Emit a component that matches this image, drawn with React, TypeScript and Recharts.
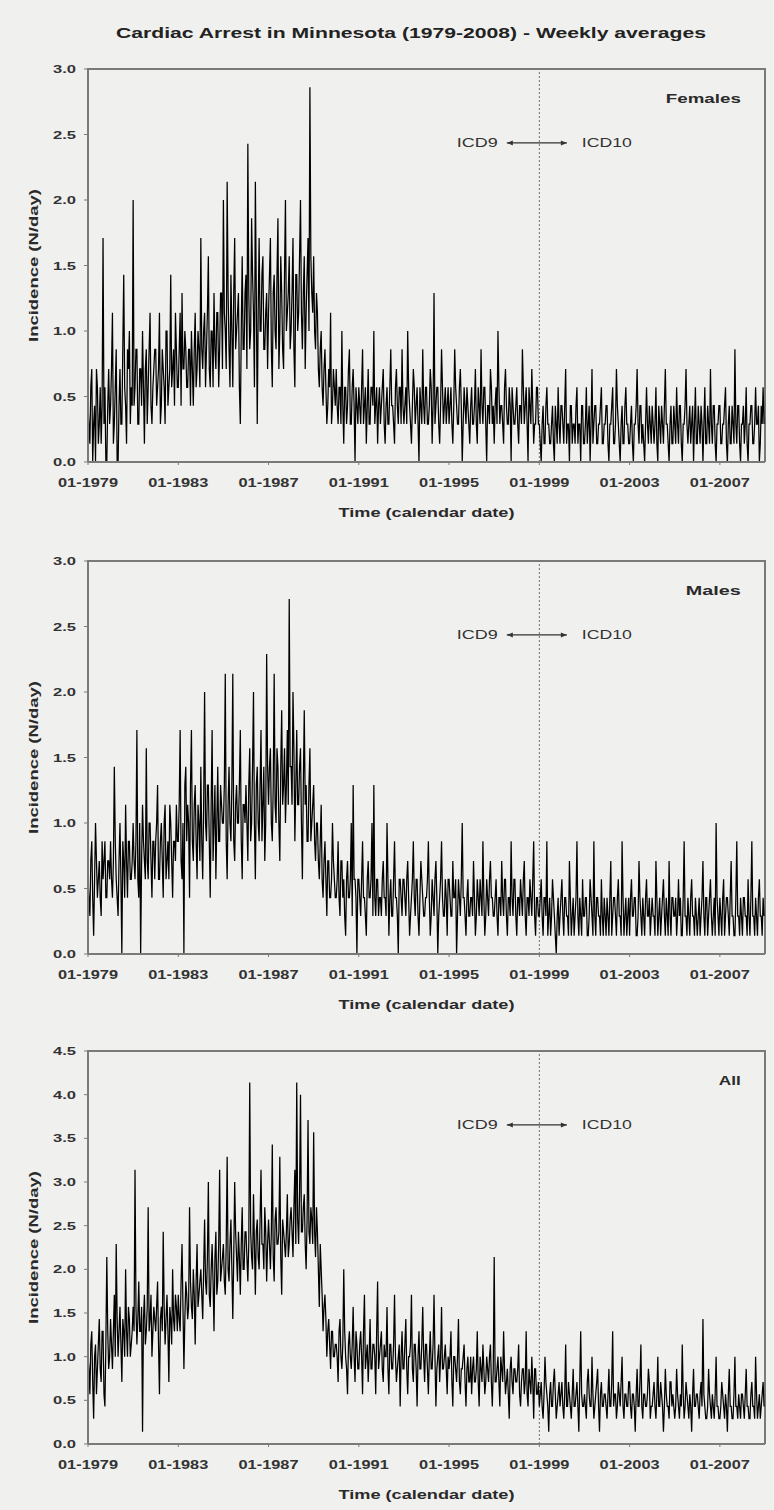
import React from 'react';
import { LineChart, Line, XAxis, YAxis, ReferenceLine, ReferenceDot, Label } from 'recharts';

// weekly averages (N/day): one row per year 1979..2008,
// "early" = first half of each month, "late" = second half of each month
const startYear = 1979;
const xTicks = [1979, 1983, 1987, 1991, 1995, 1999, 2003, 2007];
const ticks3 = [0, 0.5, 1, 1.5, 2, 2.5, 3];
const ticks45 = [0, 0.5, 1, 1.5, 2, 2.5, 3, 3.5, 4, 4.5];

const femalesEarly: number[][] = [
  [0.43, 0.14, 0.71, 0.29, 0, 0.57, 0.29, 0.14, 1.71, 0.57, 0, 0.71],
  [0.43, 1.14, 0.29, 0.86, 0, 0.71, 0.29, 1.43, 0.43, 0.86, 1.0, 0.57],
  [2.0, 0.57, 0.86, 0.29, 0.71, 1.0, 0.14, 0.86, 0.57, 1.14, 0.29, 0.71],
  [0.86, 0.57, 1.14, 0.43, 0.71, 0.29, 1.0, 0.57, 1.43, 0.71, 0.43, 0.86],
  [0.57, 1.14, 1.29, 0.71, 0.86, 0.57, 0.86, 1.0, 0.43, 1.14, 0.71, 0.86],
  [1.71, 0.71, 1.14, 0.86, 1.57, 0.57, 1.0, 1.29, 0.71, 1.14, 0.86, 1.29],
  [2.0, 1.0, 2.14, 0.86, 1.43, 0.57, 1.71, 1.0, 1.29, 0.29, 1.57, 0.86],
  [1.43, 2.43, 0.86, 1.86, 1.14, 2.14, 0.29, 1.71, 1.0, 1.57, 0.86, 1.29],
  [1.14, 1.71, 0.57, 1.43, 0.86, 1.86, 1.0, 1.29, 0.71, 2.0, 1.14, 1.57],
  [1.0, 1.71, 0.57, 1.43, 1.14, 2.0, 0.86, 1.57, 1.14, 1.71, 2.86, 1.29],
  [1.57, 0.86, 1.14, 0.57, 1.0, 0.43, 0.86, 0.29, 0.71, 1.14, 0.43, 0.57],
  [0.71, 0.29, 0.57, 1.0, 0.14, 0.57, 0.43, 0.86, 0.29, 0.71, 0, 0.43],
  [0.57, 0.29, 0.86, 0.43, 0.14, 0.71, 0.29, 0.57, 1.0, 0.43, 0.14, 0.57],
  [0.43, 0.71, 0.14, 0.57, 0.29, 0.86, 0.43, 0.14, 0.71, 0.29, 0.57, 0.86],
  [0.29, 0.57, 1.0, 0.43, 0.14, 0.71, 0.29, 0.57, 0, 0.43, 0.86, 0.29],
  [0.57, 0.29, 0.71, 0.14, 1.29, 0.43, 0.57, 0.14, 0.86, 0.29, 0.57, 0.43],
  [0.29, 0.57, 0.14, 0.86, 0.43, 0.29, 0.71, 0, 0.57, 0.29, 0.43, 0.14],
  [0.57, 0.29, 0.71, 0.14, 0.43, 0.86, 0.29, 0.57, 0, 0.43, 0.71, 0.29],
  [0.14, 0.57, 1.0, 0.29, 0.43, 0.14, 0.71, 0.29, 0.57, 0, 0.43, 0.29],
  [0.57, 0.14, 0.43, 0.86, 0.29, 0.57, 0, 0.43, 0.71, 0.14, 0.29, 0.57],
  [0.29, 0, 0.43, 0.14, 0.57, 0.29, 0.14, 0.43, 0, 0.29, 0.57, 0.14],
  [0.43, 0.14, 0.71, 0.29, 0, 0.43, 0.29, 0.14, 0.57, 0.29, 0, 0.43],
  [0.14, 0.57, 0.29, 0, 0.71, 0.29, 0.43, 0.14, 0.29, 0.57, 0.14, 0.29],
  [0.43, 0, 0.29, 0.57, 0.14, 0.71, 0.29, 0, 0.43, 0.14, 0.57, 0.29],
  [0.14, 0.43, 0, 0.29, 0.71, 0.14, 0.43, 0.29, 0, 0.57, 0.14, 0.29],
  [0.43, 0.14, 0.57, 0, 0.29, 0.43, 0.14, 0.71, 0.29, 0, 0.43, 0.14],
  [0.29, 0.57, 0.14, 0.43, 0, 0.29, 0.71, 0.14, 0.43, 0.29, 0, 0.57],
  [0.14, 0.29, 0.43, 0, 0.57, 0.14, 0.29, 0.71, 0.14, 0.43, 0, 0.29],
  [0.43, 0.14, 0.29, 0.57, 0, 0.43, 0.14, 0.29, 0.86, 0.14, 0.43, 0],
  [0.29, 0.14, 0.57, 0, 0.29, 0.43, 0.14, 0.57, 0.29, 0, 0.43, 0.57],
];

const femalesLate: number[][] = [
  [0.29, 0.57, 0, 0.43, 0.71, 0.14, 0.57, 0.43, 0.29, 0, 0.43, 0.29],
  [0.71, 0.14, 0.57, 0, 0.43, 0.29, 0.86, 0.57, 0.14, 0.71, 0.29, 0.43],
  [0.43, 0.86, 0.29, 0.71, 0.43, 0.57, 0.71, 0.29, 0.86, 0.43, 0.57, 0.86],
  [0.43, 0.71, 0.29, 0.86, 0.57, 1.0, 0.43, 0.71, 0.57, 0.86, 1.14, 0.57],
  [0.86, 0.43, 0.71, 1.0, 0.57, 0.86, 0.43, 0.71, 0.86, 0.57, 1.0, 0.57],
  [0.86, 1.0, 0.57, 1.14, 0.71, 1.0, 0.57, 0.86, 1.14, 0.57, 1.29, 0.71],
  [1.14, 0.71, 1.29, 0.57, 1.0, 1.29, 0.86, 1.14, 0.57, 1.0, 0.86, 1.29],
  [0.71, 1.29, 1.0, 1.43, 0.57, 1.29, 1.14, 1.0, 1.43, 0.86, 1.14, 0.71],
  [1.43, 0.86, 1.29, 1.0, 1.43, 0.71, 1.57, 0.86, 1.43, 1.0, 1.29, 0.86],
  [1.29, 0.86, 1.43, 1.0, 1.57, 1.14, 1.29, 0.71, 1.43, 1.0, 1.57, 1.14],
  [1.0, 1.29, 0.71, 0.86, 0.57, 0.71, 0.57, 0.43, 0.57, 0.29, 0.71, 0.43],
  [0.43, 0.57, 0.29, 0.43, 0.57, 0.29, 0.71, 0.29, 0.57, 0.43, 0.57, 0.29],
  [0.43, 0.57, 0.29, 0.57, 0.43, 0.29, 0.57, 0.43, 0.29, 0.57, 0.43, 0.29],
  [0.57, 0.29, 0.43, 0.29, 0.57, 0.43, 0.29, 0.57, 0.43, 0.57, 0.29, 0.43],
  [0.43, 0.29, 0.57, 0.29, 0.43, 0.57, 0.43, 0.29, 0.57, 0.29, 0.43, 0.57],
  [0.29, 0.43, 0.57, 0.43, 0.29, 0.57, 0.29, 0.43, 0.57, 0.43, 0.29, 0.57],
  [0.43, 0.29, 0.43, 0.57, 0.29, 0.57, 0.43, 0.29, 0.43, 0.57, 0.29, 0.43],
  [0.29, 0.43, 0.29, 0.57, 0.29, 0.43, 0.57, 0.29, 0.43, 0.29, 0.57, 0.43],
  [0.43, 0.29, 0.57, 0.43, 0.29, 0.57, 0.43, 0.29, 0.43, 0.57, 0.29, 0.43],
  [0.29, 0.43, 0.29, 0.57, 0.43, 0.29, 0.57, 0.29, 0.43, 0.29, 0.57, 0.29],
  [0.14, 0.29, 0.14, 0.43, 0.29, 0.14, 0.29, 0.14, 0.43, 0.14, 0.29, 0.43],
  [0.29, 0.43, 0.14, 0.29, 0.43, 0.14, 0.29, 0.43, 0.14, 0.29, 0.43, 0.14],
  [0.29, 0.14, 0.43, 0.29, 0.14, 0.43, 0.14, 0.29, 0.43, 0.14, 0.29, 0.43],
  [0.14, 0.29, 0.43, 0.14, 0.29, 0.43, 0.14, 0.29, 0.14, 0.43, 0.29, 0.14],
  [0.29, 0.14, 0.29, 0.43, 0.29, 0.43, 0.14, 0.14, 0.29, 0.29, 0.43, 0.14],
  [0.29, 0.29, 0.14, 0.43, 0.14, 0.29, 0.43, 0.29, 0.14, 0.29, 0.14, 0.43],
  [0.14, 0.29, 0.43, 0.14, 0.29, 0.43, 0.29, 0.29, 0.14, 0.43, 0.29, 0.14],
  [0.43, 0.14, 0.29, 0.29, 0.14, 0.43, 0.14, 0.29, 0.43, 0.14, 0.29, 0.43],
  [0.14, 0.29, 0.43, 0.14, 0.29, 0.14, 0.43, 0.14, 0.29, 0.43, 0.14, 0.29],
  [0.43, 0.29, 0.14, 0.29, 0.43, 0.14, 0.29, 0.29, 0.43, 0.14, 0.29, 0.29],
];

const malesEarly: number[][] = [
  [0.57, 0.29, 0.86, 0.14, 1.0, 0.43, 0.71, 0.29, 0.57, 0.86, 0.43, 0.71],
  [0.86, 0.43, 1.43, 0.57, 0.29, 1.0, 0, 0.71, 1.14, 0.43, 0.86, 0.57],
  [1.0, 0.57, 1.71, 0.43, 0, 1.14, 0.71, 1.57, 0.57, 1.0, 0.43, 0.86],
  [0.86, 1.29, 0.57, 1.0, 0.43, 1.14, 0.71, 0.57, 1.0, 0.43, 0.86, 1.14],
  [0.86, 1.71, 0.57, 0, 1.43, 1.14, 0.43, 1.71, 0.71, 1.29, 0.57, 1.0],
  [1.43, 0.57, 2.0, 0.86, 1.29, 0.43, 1.71, 1.0, 0.57, 1.43, 0.86, 1.14],
  [1.0, 2.14, 0.57, 1.43, 0.86, 2.14, 0.71, 1.29, 1.0, 1.71, 0.57, 1.14],
  [1.29, 0.71, 1.57, 1.0, 2.0, 0.57, 1.43, 0.86, 1.71, 1.14, 0.71, 2.29],
  [1.14, 1.57, 0.86, 2.14, 1.0, 1.43, 0.71, 1.86, 1.29, 1.0, 1.71, 2.71],
  [1.43, 2.0, 0.86, 1.71, 1.14, 1.57, 0.57, 1.86, 1.29, 0.86, 1.57, 1.0],
  [1.29, 0.71, 1.0, 0.57, 1.14, 0.43, 0.86, 0.29, 0.71, 0.43, 1.0, 0.57],
  [0.43, 0.86, 0.29, 0.71, 0.57, 0.14, 0.71, 0.43, 1.0, 1.29, 0.57, 0],
  [0.57, 0.29, 0.86, 0.43, 0.14, 0.71, 0.43, 1.0, 1.29, 0.29, 0.57, 0.43],
  [0.29, 0.71, 0.43, 1.0, 0.14, 0.57, 0.29, 0.86, 0.43, 0, 0.57, 0.29],
  [0.57, 0.29, 0.71, 0.14, 0.43, 0.86, 0.29, 0.57, 0.14, 0.71, 0.43, 0.29],
  [0.43, 0.86, 0.14, 0.57, 0.29, 0.71, 0, 0.43, 0.86, 0.29, 0.57, 0.14],
  [0.57, 0.29, 0.71, 0.43, 0, 0.57, 0.29, 1.0, 0.43, 0.14, 0.57, 0.29],
  [0.43, 0.71, 0.14, 0.57, 0.29, 0.43, 0.86, 0.14, 0.57, 0.29, 0.71, 0.43],
  [0.29, 0.57, 0.14, 0.43, 0.71, 0.29, 0.57, 0.14, 0.43, 0.86, 0.29, 0.57],
  [0.14, 0.43, 0.57, 0.29, 0.71, 0.14, 0.43, 0.57, 0.29, 0.86, 0.14, 0.43],
  [0.29, 0.57, 0.14, 0.43, 0.86, 0.29, 0.14, 0.57, 0.29, 0, 0.43, 0.29],
  [0.57, 0.14, 0.43, 0.29, 0.71, 0.14, 0.43, 0.29, 0.86, 0.14, 0.29, 0.57],
  [0.29, 0.43, 0.14, 0.57, 0.29, 0.86, 0.14, 0.43, 0.29, 0.57, 0.14, 0.29],
  [0.43, 0.14, 0.71, 0.29, 0.43, 0.14, 0.57, 0.29, 0.86, 0.14, 0.43, 0.29],
  [0.14, 0.57, 0.29, 0.43, 0.14, 0.71, 0.29, 0.43, 0.14, 0.57, 0.29, 0.14],
  [0.43, 0.29, 0.71, 0.14, 0.43, 0.29, 0.57, 0.14, 0.29, 0.71, 0.14, 0.43],
  [0.29, 0.14, 0.57, 0.43, 0.14, 0.86, 0.29, 0.43, 0.14, 0.57, 0.29, 0.43],
  [0.14, 0.43, 0.29, 0.71, 0.14, 0.43, 0.29, 0.57, 0.14, 0.43, 1.0, 0.29],
  [0.43, 0.14, 0.57, 0.29, 0.43, 0.14, 0.71, 0.29, 0.14, 0.86, 0.29, 0.43],
  [0.14, 0.43, 0.29, 0.57, 0.14, 0.86, 0.29, 0.43, 0.14, 0.57, 0.29, 0.43],
];

const malesLate: number[][] = [
  [0.43, 0.71, 0.43, 0.57, 0.71, 0.57, 0.43, 0.86, 0.71, 0.43, 0.71, 0.57],
  [0.57, 0.71, 0.86, 0.43, 0.71, 0.57, 0.86, 0.43, 0.71, 0.86, 0.57, 0.71],
  [0.71, 0.86, 0.57, 1.0, 0.71, 0.86, 0.57, 0.71, 1.0, 0.71, 0.86, 0.57],
  [1.0, 0.57, 0.86, 0.71, 1.0, 0.57, 0.86, 1.14, 0.71, 0.86, 0.71, 0.86],
  [1.14, 0.71, 1.0, 1.29, 0.86, 1.0, 1.29, 0.86, 1.14, 0.86, 1.14, 0.71],
  [0.86, 1.14, 1.0, 1.29, 0.86, 1.14, 0.71, 1.29, 1.0, 0.86, 1.29, 1.0],
  [1.29, 0.86, 1.14, 1.0, 1.29, 0.86, 1.14, 1.0, 1.29, 0.86, 1.14, 1.0],
  [1.0, 1.29, 0.86, 1.43, 1.0, 1.29, 1.0, 1.29, 0.86, 1.43, 1.0, 1.43],
  [1.43, 1.0, 1.29, 1.14, 1.57, 1.0, 1.43, 1.14, 1.57, 1.29, 1.14, 1.43],
  [1.14, 1.57, 1.29, 1.14, 1.43, 1.0, 1.29, 1.14, 0.86, 1.29, 0.86, 1.14],
  [0.86, 1.0, 0.71, 0.86, 0.57, 0.71, 0.57, 0.71, 0.43, 0.57, 0.71, 0.43],
  [0.57, 0.43, 0.71, 0.43, 0.29, 0.57, 0.43, 0.57, 0.29, 0.57, 0.43, 0.57],
  [0.43, 0.57, 0.43, 0.29, 0.57, 0.43, 0.57, 0.29, 0.43, 0.57, 0.29, 0.43],
  [0.57, 0.43, 0.29, 0.57, 0.43, 0.29, 0.57, 0.43, 0.29, 0.57, 0.43, 0.57],
  [0.43, 0.57, 0.43, 0.29, 0.57, 0.43, 0.57, 0.29, 0.43, 0.57, 0.29, 0.43],
  [0.57, 0.43, 0.29, 0.43, 0.57, 0.43, 0.29, 0.57, 0.43, 0.29, 0.43, 0.57],
  [0.43, 0.29, 0.43, 0.57, 0.29, 0.43, 0.57, 0.43, 0.29, 0.43, 0.29, 0.43],
  [0.29, 0.43, 0.29, 0.43, 0.57, 0.29, 0.43, 0.29, 0.43, 0.57, 0.43, 0.29],
  [0.43, 0.29, 0.43, 0.29, 0.43, 0.57, 0.29, 0.43, 0.29, 0.43, 0.57, 0.29],
  [0.43, 0.29, 0.43, 0.57, 0.29, 0.43, 0.29, 0.43, 0.57, 0.29, 0.43, 0.29],
  [0.43, 0.29, 0.43, 0.29, 0.14, 0.43, 0.29, 0.43, 0.14, 0.29, 0.14, 0.43],
  [0.29, 0.43, 0.29, 0.14, 0.43, 0.29, 0.14, 0.43, 0.29, 0.43, 0.14, 0.29],
  [0.43, 0.14, 0.29, 0.43, 0.14, 0.29, 0.43, 0.29, 0.14, 0.29, 0.43, 0.14],
  [0.29, 0.43, 0.14, 0.43, 0.29, 0.43, 0.29, 0.14, 0.43, 0.29, 0.14, 0.43],
  [0.43, 0.29, 0.43, 0.14, 0.29, 0.43, 0.14, 0.29, 0.43, 0.29, 0.43, 0.29],
  [0.29, 0.14, 0.43, 0.29, 0.14, 0.43, 0.29, 0.43, 0.14, 0.29, 0.43, 0.29],
  [0.43, 0.29, 0.29, 0.14, 0.43, 0.29, 0.14, 0.29, 0.43, 0.29, 0.14, 0.29],
  [0.29, 0.14, 0.43, 0.29, 0.43, 0.14, 0.43, 0.29, 0.29, 0.14, 0.43, 0.14],
  [0.29, 0.43, 0.14, 0.43, 0.29, 0.43, 0.29, 0.14, 0.43, 0.29, 0.14, 0.29],
  [0.43, 0.29, 0.14, 0.29, 0.43, 0.29, 0.14, 0.29, 0.43, 0.29, 0.14, 0.29],
];

const allEarly: number[][] = [
  [1.0, 0.57, 1.29, 0.29, 1.14, 0.86, 1.43, 0.71, 1.29, 0.43, 2.14, 0.86],
  [1.43, 0.86, 1.71, 2.29, 1.0, 1.57, 0.71, 1.29, 2.0, 1.0, 1.43, 1.14],
  [1.57, 3.14, 1.14, 1.86, 1.29, 0.14, 1.71, 1.29, 2.71, 1.43, 1.0, 1.57],
  [1.29, 1.86, 0.57, 1.57, 2.43, 1.14, 1.71, 0.71, 1.43, 2.0, 1.29, 1.57],
  [1.71, 1.29, 2.29, 0.86, 1.86, 1.43, 2.71, 1.57, 2.0, 1.14, 2.29, 1.71],
  [2.0, 1.43, 2.57, 1.71, 3.0, 1.57, 2.29, 1.29, 2.43, 1.86, 3.14, 2.0],
  [2.29, 1.71, 3.29, 1.86, 2.57, 1.43, 3.0, 2.14, 2.43, 1.71, 2.71, 2.0],
  [2.43, 1.86, 4.14, 2.14, 2.86, 1.71, 2.57, 2.0, 3.14, 2.29, 2.71, 1.86],
  [2.57, 2.0, 3.43, 1.86, 2.71, 2.29, 3.29, 1.71, 2.43, 2.14, 2.86, 2.29],
  [2.71, 2.14, 3.14, 4.14, 2.29, 4.0, 2.43, 2.86, 2.0, 3.71, 2.29, 2.57],
  [3.57, 2.14, 2.43, 1.57, 2.0, 1.29, 1.71, 1.0, 1.43, 0.86, 1.29, 1.0],
  [1.14, 0.71, 1.43, 0.86, 2.0, 1.0, 0.57, 1.29, 0.86, 1.57, 0.71, 1.14],
  [0.86, 1.29, 0.57, 1.71, 1.0, 0.71, 1.43, 0.86, 1.14, 0.57, 1.86, 1.0],
  [1.29, 0.71, 1.0, 1.57, 0.57, 1.14, 0.86, 1.71, 0.71, 1.0, 0.43, 1.29],
  [0.86, 1.43, 0.57, 1.0, 1.71, 0.71, 1.14, 0.43, 1.29, 0.86, 1.57, 0.71],
  [1.14, 0.57, 1.29, 0.86, 1.71, 0.43, 1.0, 0.71, 1.57, 0.86, 1.14, 0.57],
  [0.86, 1.29, 0.43, 1.0, 0.71, 1.43, 0.57, 0.86, 1.14, 0.43, 1.0, 0.71],
  [0.57, 1.0, 0.71, 1.29, 0.43, 0.86, 1.14, 0.57, 1.0, 0.71, 1.14, 0.43],
  [2.14, 0.71, 1.0, 0.43, 0.86, 1.29, 0.57, 0.86, 0.29, 1.0, 0.57, 0.86],
  [0.71, 1.14, 0.43, 0.86, 0.57, 1.29, 0.43, 0.71, 1.0, 0.29, 0.86, 0.57],
  [0.43, 0.71, 0.29, 1.0, 0.57, 0.14, 0.71, 0.43, 0.86, 0.29, 0.57, 0.43],
  [0.71, 0.29, 1.14, 0.43, 0.57, 0.29, 0.86, 0.43, 0.71, 0.14, 1.29, 0.43],
  [0.57, 0.29, 0.86, 0.43, 1.0, 0.29, 0.57, 0.86, 0.14, 0.71, 0.43, 0.57],
  [0.29, 0.86, 0.43, 1.29, 0.57, 0.29, 0.71, 0.43, 1.0, 0.29, 0.57, 0.43],
  [0.71, 0.29, 0.57, 0.14, 0.86, 0.43, 1.14, 0.29, 0.57, 0.43, 0.86, 0.29],
  [0.43, 0.71, 0.29, 1.0, 0.43, 0.57, 0.14, 0.86, 0.43, 0.29, 0.71, 0.57],
  [0.29, 0.86, 0.43, 0.57, 1.14, 0.29, 0.71, 0.43, 0.57, 0.14, 0.86, 0.43],
  [0.57, 0.29, 0.71, 1.43, 0.43, 0.29, 0.86, 0.43, 0.57, 0.29, 1.0, 0.43],
  [0.29, 0.71, 0.43, 0.57, 0.14, 0.86, 0.43, 0.29, 1.0, 0.43, 0.57, 0.29],
  [0.57, 0.29, 0.86, 0.43, 0.29, 0.71, 0.43, 1.0, 0.29, 0.57, 0.43, 0.71],
];

const allLate: number[][] = [
  [0.86, 1.14, 0.71, 1.0, 0.57, 1.14, 0.86, 1.29, 0.57, 1.14, 1.29, 1.0],
  [1.14, 1.29, 1.0, 1.43, 1.29, 1.14, 1.43, 1.0, 1.29, 1.57, 1.0, 1.29],
  [1.29, 1.57, 1.43, 1.29, 1.57, 1.43, 1.14, 1.57, 1.29, 1.71, 1.29, 1.43],
  [1.57, 1.14, 1.43, 1.29, 1.57, 1.43, 1.29, 1.57, 1.14, 1.43, 1.71, 1.29],
  [1.43, 1.86, 1.57, 1.43, 1.71, 1.57, 1.86, 1.43, 1.71, 1.86, 1.57, 1.86],
  [1.71, 2.0, 1.86, 2.14, 1.71, 2.0, 1.86, 2.14, 1.71, 2.29, 1.86, 2.14],
  [1.86, 2.29, 2.0, 2.29, 2.0, 2.14, 2.43, 1.86, 2.14, 2.29, 2.0, 2.43],
  [2.14, 2.29, 2.43, 2.0, 2.29, 2.43, 2.14, 2.57, 2.29, 2.0, 2.43, 2.29],
  [2.29, 2.43, 2.14, 2.57, 2.29, 2.43, 2.14, 2.57, 2.29, 2.43, 2.14, 2.57],
  [2.43, 2.71, 2.29, 2.57, 2.86, 2.43, 2.71, 2.29, 2.57, 2.43, 2.71, 2.29],
  [2.43, 2.71, 2.0, 2.29, 1.71, 1.57, 1.43, 1.29, 1.14, 1.29, 1.0, 1.14],
  [1.0, 1.29, 1.0, 1.14, 1.29, 0.86, 1.14, 1.0, 1.14, 1.0, 1.29, 0.86],
  [1.14, 1.0, 1.29, 0.86, 1.14, 1.0, 0.86, 1.14, 1.0, 1.29, 0.86, 1.14],
  [0.86, 1.14, 1.0, 0.86, 1.14, 0.86, 1.14, 1.0, 0.86, 1.14, 1.0, 0.86],
  [1.14, 0.86, 1.0, 1.14, 0.86, 1.14, 0.86, 1.0, 0.86, 1.14, 1.0, 1.14],
  [0.86, 1.0, 0.86, 1.14, 1.0, 0.86, 1.14, 1.0, 0.86, 1.0, 0.86, 1.0],
  [1.0, 0.71, 1.0, 0.86, 1.0, 0.71, 0.86, 1.0, 0.71, 0.86, 0.71, 1.0],
  [0.86, 0.71, 0.86, 0.71, 1.0, 0.71, 0.86, 0.71, 0.86, 1.0, 0.71, 0.86],
  [0.71, 0.86, 0.71, 1.0, 0.71, 0.86, 0.71, 0.57, 0.86, 0.71, 0.86, 0.71],
  [0.86, 0.57, 0.71, 0.86, 0.71, 0.57, 0.86, 0.57, 0.71, 0.86, 0.57, 0.71],
  [0.57, 0.43, 0.57, 0.71, 0.43, 0.57, 0.43, 0.71, 0.57, 0.43, 0.71, 0.57],
  [0.43, 0.57, 0.43, 0.71, 0.43, 0.57, 0.43, 0.57, 0.43, 0.71, 0.57, 0.43],
  [0.43, 0.71, 0.57, 0.43, 0.57, 0.43, 0.71, 0.43, 0.57, 0.43, 0.57, 0.43],
  [0.57, 0.43, 0.71, 0.43, 0.57, 0.43, 0.57, 0.71, 0.43, 0.57, 0.43, 0.71],
  [0.43, 0.57, 0.43, 0.57, 0.43, 0.71, 0.43, 0.57, 0.43, 0.57, 0.71, 0.43],
  [0.57, 0.43, 0.57, 0.43, 0.71, 0.43, 0.43, 0.57, 0.43, 0.71, 0.43, 0.43],
  [0.43, 0.57, 0.29, 0.43, 0.57, 0.43, 0.57, 0.29, 0.43, 0.57, 0.43, 0.57],
  [0.43, 0.57, 0.43, 0.57, 0.29, 0.43, 0.57, 0.29, 0.43, 0.57, 0.43, 0.29],
  [0.43, 0.57, 0.29, 0.43, 0.57, 0.43, 0.29, 0.57, 0.43, 0.29, 0.43, 0.57],
  [0.43, 0.57, 0.43, 0.29, 0.57, 0.43, 0.29, 0.57, 0.43, 0.29, 0.57, 0.43],
];

const rows = femalesEarly.flatMap((year, yi) =>
  year.flatMap((_, mi) => [
    {
      t: startYear + yi + mi / 12,
      females: femalesEarly[yi][mi],
      males: malesEarly[yi][mi],
      all: allEarly[yi][mi],
    },
    {
      t: startYear + yi + (mi + 0.5) / 12,
      females: femalesLate[yi][mi],
      males: malesLate[yi][mi],
      all: allLate[yi][mi],
    },
  ])
);

const FONT = '"Liberation Sans", Arial, sans-serif';
const FRAME = '#7a7a7a';
const INK = '#333';
const PLOT_H = 393;
const PLOT_LEFT = 88;
const PLOT_W = 677;

const panels = [
  { key: 'females', label: 'Females', labelW: 75, top: 69, yMax: 3, yTicks: ticks3 },
  { key: 'males', label: 'Males', labelW: 55, top: 561, yMax: 3, yTicks: ticks3 },
  { key: 'all', label: 'All', labelW: 22, top: 1051, yMax: 4.5, yTicks: ticks45 },
];

const XTick = (props: any) => {
  const { x, y, payload } = props;
  return (
    <text x={x} y={y + 20} textAnchor="middle" fontFamily={FONT} fontSize={12} fontWeight="bold" fill={INK}
      textLength={60} lengthAdjust="spacingAndGlyphs">
      {`01-${payload.value}`}
    </text>
  );
};

const YTick = (props: any) => {
  const { x, y, payload } = props;
  return (
    <text x={x} y={y + 4} textAnchor="end" fontFamily={FONT} fontSize={11} fontWeight="bold" fill={INK}
      textLength={23} lengthAdjust="spacingAndGlyphs">
      {payload.value.toFixed(1)}
    </text>
  );
};

const XTitle = (props: any) => {
  const { x, y, width } = props.viewBox;
  return (
    <text x={x + width / 2} y={y + 55} textAnchor="middle" fontFamily={FONT} fontSize={13} fontWeight="bold" fill="#2a2a2a"
      textLength={176} lengthAdjust="spacingAndGlyphs">
      Time (calendar date)
    </text>
  );
};

const YTitle = (props: any) => {
  const { y, height } = props.viewBox;
  const cx = 33;
  const cy = y + height / 2;
  return (
    <text x={cx} y={cy} transform={`rotate(-90, ${cx}, ${cy})`} textAnchor="middle" dominantBaseline="central"
      fontFamily={FONT} fontSize={13} fontWeight="bold" fill="#2a2a2a" textLength={153} lengthAdjust="spacingAndGlyphs">
      Incidence (N/day)
    </text>
  );
};

const IcdArrow = (props: any) => {
  const { x1, y1, x2 } = props;
  return (
    <g>
      <line x1={x1} y1={y1} x2={x2} y2={y1} stroke="#333" strokeWidth={1.2} />
      <path d={`M${x1},${y1} l6,-2.5 l0,5 Z`} fill="#333" />
      <path d={`M${x2},${y1} l-6,-2.5 l0,5 Z`} fill="#333" />
      <text x={x1 - 9} y={y1 + 4.5} textAnchor="end" fontFamily={FONT} fontSize={12} fill="#333"
        textLength={41} lengthAdjust="spacingAndGlyphs">ICD9</text>
      <text x={x2 + 15} y={y1 + 4.5} textAnchor="start" fontFamily={FONT} fontSize={12} fill="#333"
        textLength={50} lengthAdjust="spacingAndGlyphs">ICD10</text>
    </g>
  );
};

// top and right edges of the plot box, drawn inside the chart's own svg
const FrameEdges = (props: any) => {
  const { x1, y1, x2, y2 } = props;
  return (
    <path d={`M${x1},${y2} L${x1},${y1} L${x2},${y1} L${x2},${y2}`} fill="none" stroke={FRAME} strokeWidth={2} />
  );
};

const Panel = ({ p }: { p: (typeof panels)[number] }) => {
  const icdY = p.yMax * 0.812;
  const PanelLabel = (props: any) => (
    <text x={props.cx} y={props.cy + 4.5} textAnchor="end" fontFamily={FONT} fontSize={13} fontWeight="bold" fill="#2a2a2a"
      textLength={p.labelW} lengthAdjust="spacingAndGlyphs">
      {p.label}
    </text>
  );
  return (
    <div style={{ position: 'absolute', left: 0, top: p.top - 10 }}>
      <LineChart width={774} height={10 + PLOT_H + 62} data={rows} margin={{ top: 10, right: 9, bottom: 0, left: 0 }}>
        <XAxis dataKey="t" type="number" domain={[1979, 2009]} ticks={xTicks} interval={0} tick={<XTick />}
          tickSize={3} tickLine={{ stroke: FRAME }} axisLine={{ stroke: FRAME, strokeWidth: 2 }} height={62}>
          <Label content={<XTitle />} />
        </XAxis>
        <YAxis domain={[0, p.yMax]} ticks={p.yTicks} interval={0} width={PLOT_LEFT} tickSize={4} tickMargin={8} tick={<YTick />}
          tickLine={{ stroke: FRAME }} axisLine={{ stroke: FRAME, strokeWidth: 2 }}>
          <Label content={<YTitle />} />
        </YAxis>
        <ReferenceLine segment={[{ x: 1979, y: p.yMax }, { x: 2009, y: p.yMax }]} ifOverflow="visible"
          shape={(sp: any) => <FrameEdges x1={sp.x1} y1={sp.y1} x2={sp.x2} y2={sp.y1 + PLOT_H} />} />
        <ReferenceLine x={1999} stroke="#6f6f6f" strokeDasharray="2 2" strokeWidth={1} />
        <Line type="linear" dataKey={p.key} stroke="#000" strokeWidth={1.25} dot={false} activeDot={false}
          isAnimationActive={false} />
        <ReferenceLine segment={[{ x: 1997.56, y: icdY }, { x: 2000.22, y: icdY }]} shape={IcdArrow} />
        <ReferenceDot x={2007.93} y={p.yMax * 0.925} r={0} shape={PanelLabel} />
      </LineChart>
    </div>
  );
};

export default function App() {
  return (
    <div style={{ position: 'relative', width: 774, height: 1510, background: '#f0f0ee', overflow: 'hidden' }}>
      <style>{'body{margin:0;background:#f0f0ee}'}</style>
      <svg width={774} height={60} style={{ position: 'absolute', left: 0, top: 0 }}>
        <text x={411} y={38} textAnchor="middle" fontFamily={FONT} fontSize={15} fontWeight="bold" fill="#222"
          textLength={590} lengthAdjust="spacingAndGlyphs">
          Cardiac Arrest in Minnesota (1979-2008) - Weekly averages
        </text>
      </svg>
      {panels.map((p) => (
        <Panel key={p.key} p={p} />
      ))}
    </div>
  );
}
